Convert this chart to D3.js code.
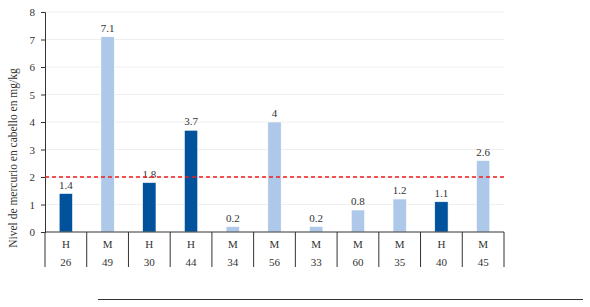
<!DOCTYPE html>
<html>
<head>
<meta charset="utf-8">
<script src="https://cdn.jsdelivr.net/npm/d3@7"></script>
<style>
  body { margin: 0; background: #fff; }
  svg text { font-family: "Liberation Serif", "Times New Roman", "DejaVu Serif", serif !important; fill: #333; }
</style>
</head>
<body>
<div id="chart"></div>
<script>
const sexo = ["H", "M", "H", "H", "M", "M", "M", "M", "M", "H", "M"];
const edad = ["26", "49", "30", "44", "34", "56", "33", "60", "35", "40", "45"];
const mercurio = [1.4, 7.1, 1.8, 3.7, 0.2, 4, 0.2, 0.8, 1.2, 1.1, 2.6];
const limite = 2;
const yTicks = [0, 1, 2, 3, 4, 5, 6, 7, 8];

const width = 590, height = 307;
const margin = {top: 12, left: 45, right: 86, bottom: 75};
const plotW = width - margin.left - margin.right;
const plotH = height - margin.top - margin.bottom;

const svg = d3.select("#chart").append("svg")
    .attr("width", width)
    .attr("height", height)
    .attr("font-family", "Liberation Serif");

const g = svg.append("g")
    .attr("transform", `translate(${margin.left},${margin.top})`);

const idx = d3.range(mercurio.length);

const x = d3.scaleBand()
    .domain(idx)
    .range([0, plotW])
    .padding(0);

const y = d3.scaleLinear()
    .domain([0, 8])
    .range([plotH, 0]);

// gridlines
g.selectAll(".grid")
    .data(yTicks.slice(1))
    .enter().append("line")
    .attr("x1", 0)
    .attr("x2", plotW)
    .attr("y1", d => y(d))
    .attr("y2", d => y(d))
    .attr("stroke", "#efefef")
    .attr("stroke-width", 1);

// y axis
const yAxis = g.append("g")
    .call(d3.axisLeft(y).tickValues(yTicks).tickSize(4).tickPadding(6).tickFormat(d3.format("d")));
yAxis.attr("font-family", null);
yAxis.select(".domain").attr("stroke", "#333");
yAxis.selectAll(".tick line").attr("stroke", "#333");
yAxis.selectAll("text").style("font-size", "11px").style("fill", "#333");

// bars
const barW = x.bandwidth() * 0.32;
g.selectAll(".bar")
    .data(idx)
    .enter().append("rect")
    .attr("class", "bar")
    .attr("x", i => x(i) + (x.bandwidth() - barW) / 2)
    .attr("y", i => y(mercurio[i]))
    .attr("width", barW)
    .attr("height", i => y(0) - y(mercurio[i]))
    .attr("fill", i => sexo[i] === "H" ? "#00529c" : "#adc8e9")
    .attr("stroke", "#ffffff")
    .attr("stroke-width", 0.6);

// value labels
g.selectAll(".label")
    .data(idx)
    .enter().append("text")
    .attr("x", i => x(i) + x.bandwidth() / 2)
    .attr("y", i => y(mercurio[i]) - 5)
    .attr("text-anchor", "middle")
    .style("font-size", "11px")
    .text(i => mercurio[i]);

// red threshold line
g.append("line")
    .attr("x1", 0)
    .attr("x2", plotW)
    .attr("y1", y(limite))
    .attr("y2", y(limite))
    .attr("stroke", "#ee1c1c")
    .attr("stroke-width", 1.5)
    .attr("stroke-dasharray", "4,3");

// baseline
g.append("line")
    .attr("x1", 0)
    .attr("x2", plotW)
    .attr("y1", y(0))
    .attr("y2", y(0))
    .attr("stroke", "#333");

// category table
const sepBottom = y(0) + 35;
g.selectAll(".sep")
    .data(d3.range(mercurio.length + 1))
    .enter().append("line")
    .attr("x1", i => i === mercurio.length ? plotW : x(i))
    .attr("x2", i => i === mercurio.length ? plotW : x(i))
    .attr("y1", y(0))
    .attr("y2", sepBottom)
    .attr("stroke", "#333");

g.selectAll(".sexo")
    .data(idx)
    .enter().append("text")
    .attr("x", i => x(i) + x.bandwidth() / 2)
    .attr("y", y(0) + 16)
    .attr("text-anchor", "middle")
    .style("font-size", "11px")
    .text(i => sexo[i]);

g.selectAll(".edad")
    .data(idx)
    .enter().append("text")
    .attr("x", i => x(i) + x.bandwidth() / 2)
    .attr("y", y(0) + 34)
    .attr("text-anchor", "middle")
    .style("font-size", "11px")
    .text(i => edad[i]);

// y title
svg.append("text")
    .attr("transform", `translate(17,158) rotate(-90)`)
    .attr("text-anchor", "middle")
    .style("font-size", "11.5px")
    .text("Nivel de mercurio en cabello en mg/kg");

// bottom rule
svg.append("line")
    .attr("x1", 98)
    .attr("x2", 583)
    .attr("y1", 299.5)
    .attr("y2", 299.5)
    .attr("stroke", "#333")
    .attr("stroke-width", 1);
</script>
</body>
</html>
